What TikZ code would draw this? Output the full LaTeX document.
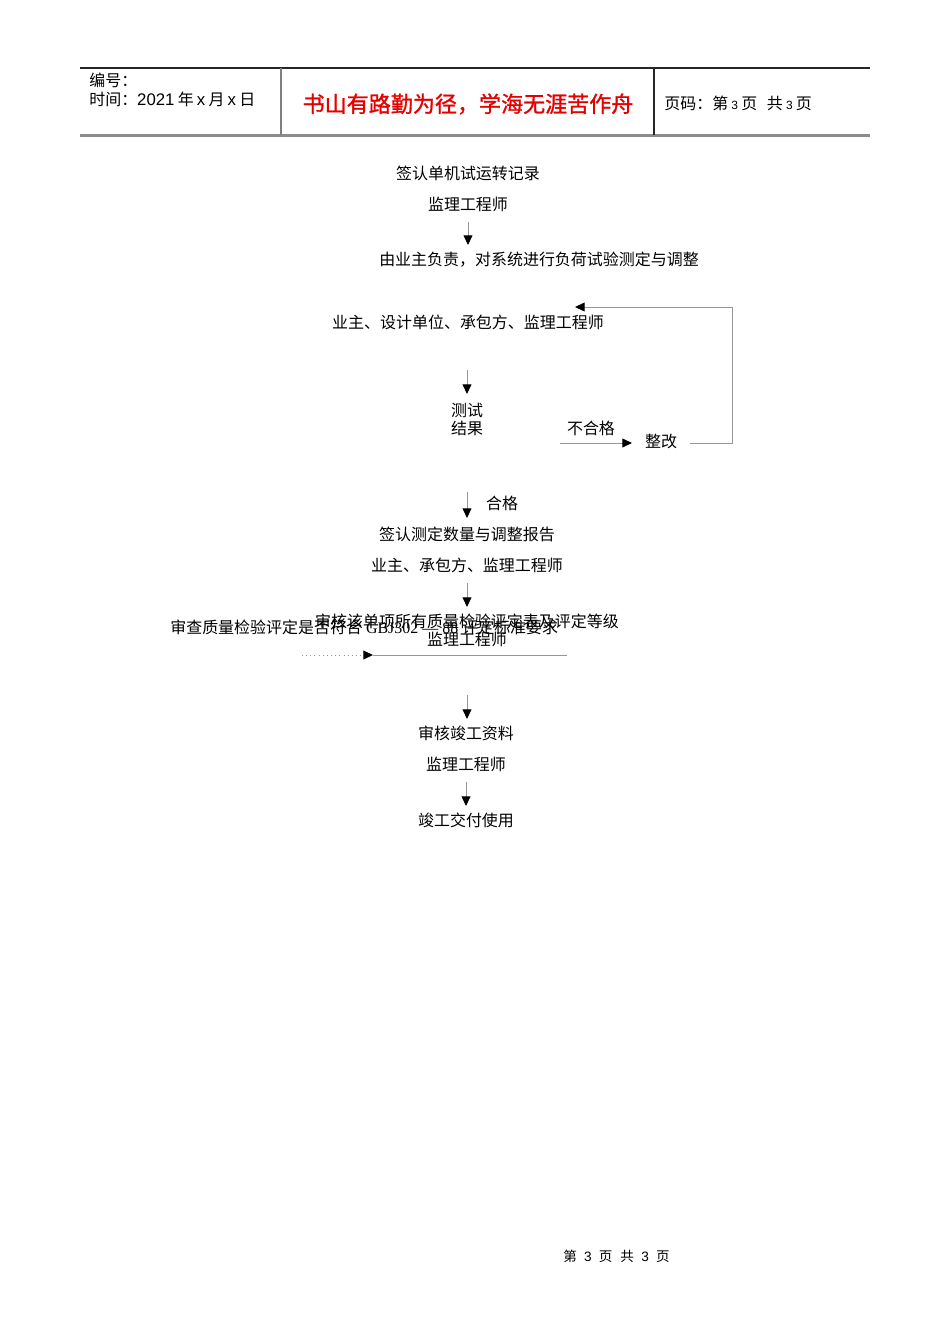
\documentclass[tikz,border=0pt]{standalone}
\usepackage{fontspec}
\setmainfont{Liberation Serif}
\newfontfamily\cjk{Noto Sans CJK SC}
\newfontfamily\cjkbold[FakeBold=1.2]{Noto Sans CJK SC}
\newfontfamily\hsans{Liberation Sans}
\usetikzlibrary{arrows.meta}
\definecolor{conn}{RGB}{150,150,150}
\definecolor{redtxt}{RGB}{230,0,0}
\begin{document}
\begin{tikzpicture}[x=0.626pt,y=-0.626pt,
  lbl/.style={inner sep=0pt,font=\fontsize{10pt}{12pt}\selectfont\cjk},
  hdr/.style={inner sep=0pt,font=\fontsize{10pt}{12pt}\selectfont\cjk,anchor=west},
  conline/.style={draw=conn,line width=0.6pt},
  tipline/.style={draw=conn,line width=0.6pt,-{Triangle[color=black,width=5.5pt,length=6pt]}},
  dotline/.style={draw=conn,line width=0.6pt,dotted,-{Triangle[color=black,width=5.5pt,length=6pt]}}]
\useasboundingbox (0,0) rectangle (950,1344);
\fill[white] (0,0) rectangle (950,1344);
% header
\draw[line width=0.7pt,black!85] (80,68) -- (870,68);
\draw[line width=1.3pt,black!45] (80,135.5) -- (870,135.5);
\draw[line width=0.8pt,black!50] (281,68) -- (281,135);
\draw[line width=0.7pt,black!85] (654,68) -- (654,135);
\node[hdr] (h1) at (89,80) {编号：};
\node[hdr] (h2) at (89,99) {时间：{\hsans\fontsize{10.5pt}{12pt}\selectfont 2021\hspace{2pt}}年{\hsans\fontsize{10.5pt}{12pt}\selectfont\hspace{2pt}x\hspace{2pt}}月{\hsans\fontsize{10.5pt}{12pt}\selectfont\hspace{2pt}x\hspace{2pt}}日};
\node[inner sep=0pt,font=\fontsize{13.8pt}{15pt}\selectfont\cjkbold,text=redtxt] (motto) at (468,104) {书山有路勤为径，学海无涯苦作舟};
\node[hdr] (h3) at (664,103) {页码：第\hspace{2pt}{\hsans\fontsize{7.5pt}{9pt}\selectfont 3}\hspace{2pt}页\hspace{6pt}共\hspace{2pt}{\hsans\fontsize{7.5pt}{9pt}\selectfont 3}\hspace{2pt}页};
% flow
\node[lbl] (t1) at (468,173) {签认单机试运转记录};
\node[lbl] (t2) at (468,204) {监理工程师};
\coordinate (a1s) at (468,222); \coordinate (a1e) at (468,245);
\draw[tipline] (a1s) -- (a1e);
\node[lbl] (t3) at (539,260) {由业主负责，对系统进行负荷试验测定与调整};
\node[lbl] (t4) at (468,322) {业主、设计单位、承包方、监理工程师};
\coordinate (a2s) at (467,370); \coordinate (a2e) at (467,394);
\draw[tipline] (a2s) -- (a2e);
\node[lbl,align=center,font=\fontsize{10pt}{11.3pt}\selectfont\cjk] (t5) at (467,419) {测试\\结果};
\node[lbl] (t6) at (591,428) {不合格};
\coordinate (a3s) at (560,443); \coordinate (a3e) at (632,443);
\draw[tipline] (a3s) -- (a3e);
\node[lbl] (t7) at (661,441) {整改};
\coordinate (l1) at (690,443); \coordinate (l2) at (732,443);
\coordinate (l3) at (732,307); \coordinate (l4) at (575,307);
\draw[conline,-{Triangle[color=black,width=5.5pt,length=6pt]}] (l1) -- (l2) -- (l3) -- (l4);
\coordinate (a4s) at (467,492); \coordinate (a4e) at (467,518);
\draw[tipline] (a4s) -- (a4e);
\node[lbl] (t8) at (502,503) {合格};
\node[lbl] (t9) at (467,534) {签认测定数量与调整报告};
\node[lbl] (t10) at (467,565) {业主、承包方、监理工程师};
\coordinate (a5s) at (467,583); \coordinate (a5e) at (467,607);
\draw[tipline] (a5s) -- (a5e);
\node[lbl] (t11) at (467,621) {审核该单项所有质量检验评定表及评定等级};
\node[lbl,anchor=west] (t12) at (170,627) {审查质量检验评定是否符合\fontsize{10pt}{12pt}\selectfont\rmfamily\ GBJ302 — 88 {\cjk 评定标准要求}};
\node[lbl] (t13) at (467,639) {监理工程师};
\coordinate (d1) at (302,655); \coordinate (d2) at (373,655); \coordinate (d3) at (567,655);
\draw[dotline] (d1) -- (d2);
\draw[conline] (d2) -- (d3);
\coordinate (a6s) at (467,695); \coordinate (a6e) at (467,719);
\draw[tipline] (a6s) -- (a6e);
\node[lbl] (t14) at (466,733) {审核竣工资料};
\node[lbl] (t15) at (466,764) {监理工程师};
\coordinate (a7s) at (466,782); \coordinate (a7e) at (466,806);
\draw[tipline] (a7s) -- (a7e);
\node[lbl] (t16) at (466,820) {竣工交付使用};
% footer
\node[inner sep=0pt,font=\fontsize{8.5pt}{10pt}\selectfont\cjk] (foot) at (616.5,1256) {第\hspace{4.5pt}{\hsans 3}\hspace{4.5pt}页\hspace{5pt}共\hspace{4.5pt}{\hsans 3}\hspace{4.5pt}页};
\end{tikzpicture}
\end{document}
